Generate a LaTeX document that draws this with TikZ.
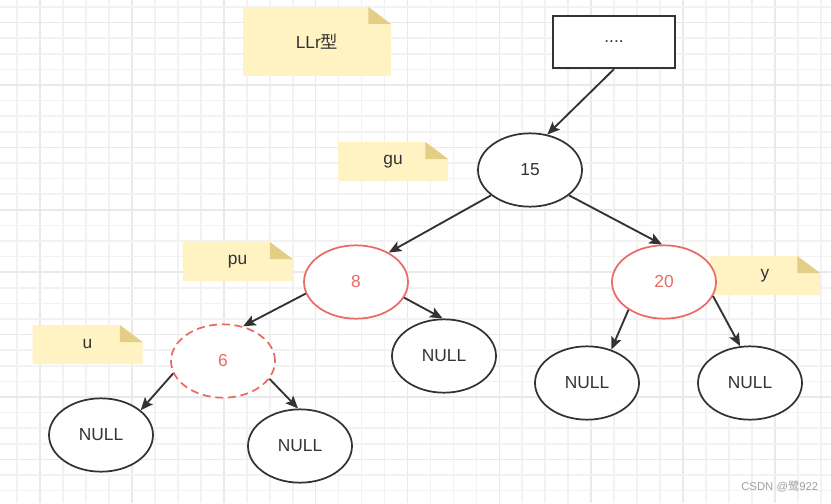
\documentclass[tikz,border=0pt]{standalone}
\usepackage{fontspec}
\setmainfont{Liberation Sans}
\newfontfamily\cjk{Noto Sans CJK SC}
\usetikzlibrary{arrows.meta,shapes.geometric,backgrounds}
\definecolor{darkline}{RGB}{51,51,51}
\definecolor{softred}{RGB}{234,107,102}
\definecolor{notefill}{RGB}{255,243,196}
\definecolor{notefold}{RGB}{228,206,134}
\definecolor{gridminor}{RGB}{242,242,242}
\definecolor{gridmajor}{RGB}{233,233,233}
\definecolor{markgray}{RGB}{160,160,160}
\tikzset{
  treenode/.style={ellipse, draw=darkline, line width=1.3pt, fill=white,
                   minimum width=78pt, minimum height=55pt, text=darkline,
                   font=\fontsize{13}{15}\selectfont},
  rednode/.style={treenode, draw=softred, text=softred},
  rednodedash/.style={rednode, dash pattern=on 6pt off 3.5pt},
  topbox/.style={rectangle, draw=darkline, line width=1.7pt, fill=white,
                 minimum width=91.5pt, minimum height=39pt, text=darkline,
                 font=\fontsize{13}{15}\selectfont},
  note/.style={rectangle, outer sep=0pt, inner sep=0pt, minimum width=82.5pt,
               minimum height=29.25pt, text=darkline, font=\fontsize{13}{15}\selectfont},
  arrow/.style={-{Stealth[length=9.5pt,width=8pt,inset=2pt]}, line width=1.4pt, darkline},
}

\begin{document}
\begin{tikzpicture}[x=0.75pt,y=-0.75pt]
\useasboundingbox (0,0) rectangle (831,503);
% background grid
\begin{scope}[on background layer]
\fill[white] (0,0) rectangle (831,503);
\foreach \k in {0,...,35} {
  \pgfmathtruncatemacro{\major}{mod(\k,4)==1}
  \ifnum\major=1 \def\gc{gridmajor}\else \def\gc{gridminor}\fi
  \draw[\gc, line width=1.3pt] ({17+22.97*\k},0) -- ({17+22.97*\k},503);
}
\foreach \k in {0,...,31} {
  \pgfmathtruncatemacro{\major}{mod(\k,4)==1}
  \ifnum\major=1 \def\gc{gridmajor}\else \def\gc{gridminor}\fi
  \draw[\gc, line width=1.3pt] (0,{7+15.6*\k}) -- (831,{7+15.6*\k});
}
\end{scope}

% notes
\node[note, minimum width=111pt, minimum height=51.75pt] (notellr) at (317,41.5) {LLr{\cjk 型}};
\node[note] (notegu) at (393,161.5) {gu};
\node[note] (notepu) at (237.5,261.5) {pu};
\node[note] (noteu) at (87.5,344.5) {u};
\node[note] (notey) at (765,275.5) {y};
\begin{scope}[on background layer]
\foreach \n in {notellr,notegu,notepu,noteu,notey} {
  \fill[notefill] (\n.north west) -- ([xshift=-17pt]\n.north east)
    -- ([yshift=-12.75pt]\n.north east) -- (\n.south east) -- (\n.south west) -- cycle;
  \fill[notefold] ([xshift=-17pt]\n.north east) -- ([xshift=-17pt,yshift=-12.75pt]\n.north east)
    -- ([yshift=-12.75pt]\n.north east) -- cycle;
}
\end{scope}

% tree
\node[topbox] (top) at (614,42) {....};
\node[treenode] (n15) at (530,170) {15};
\node[rednode] (n8) at (356,282) {8};
\node[rednode] (n20) at (664,282) {20};
\node[rednodedash] (n6) at (223,361) {6};
\node[treenode] (nulla) at (101,435) {NULL};
\node[treenode] (nullb) at (300,446) {NULL};
\node[treenode] (nullc) at (444,356) {NULL};
\node[treenode] (nulld) at (587,383) {NULL};
\node[treenode] (nulle) at (750,383) {NULL};

\draw[arrow] (top.south) -- (n15.64);
\draw[arrow] (n15.213) -- (n8.42);
\draw[arrow] (n15.327) -- (n20.93);
\draw[arrow] (n8.193) -- (n6.60);
\draw[arrow] (n8.342) -- (nullc.92);
\draw[arrow] (n6.194) -- (nulla.32);
\draw[arrow] (n6.339) -- (nullb.93);
\draw[arrow] (n20.218) -- (nulld.54);
\draw[arrow] (n20.344) -- (nulle.105);

\node[anchor=east, text=markgray, font=\fontsize{8.5}{10}\selectfont] (mark) at (823,487) {CSDN @{\cjk 鹭}922};
\end{tikzpicture}
\end{document}
